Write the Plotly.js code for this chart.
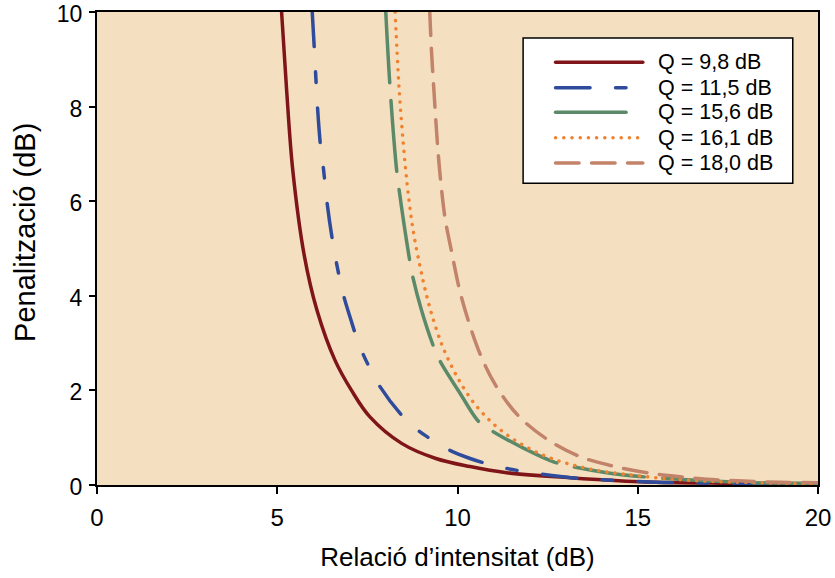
<!DOCTYPE html>
<html>
<head>
<meta charset="utf-8">
<script src="https://cdn.plot.ly/plotly-3.0.1.min.js"></script>
<style>
  body { margin: 0; background: #fff; }
  .scatterlayer .js-line { stroke-linecap: round; }
</style>
</head>
<body>
<div id="chart" style="width:835px;height:578px;"></div>
<script>
// Series
const seriesNames = ["Q = 9,8 dB", "Q = 11,5 dB", "Q = 15,6 dB", "Q = 16,1 dB", "Q = 18,0 dB"];

const redX = [5.12, 5.26, 5.43, 5.75, 6.10, 6.60, 7.06, 7.57, 8.45, 9.40, 10.35, 11.36, 13.2, 15.06, 17.0, 20.0];
const redY = [10, 8.35, 6.66, 4.85, 3.70, 2.64, 2.00, 1.44, 0.88, 0.56, 0.39, 0.26, 0.15, 0.07, 0.04, 0.015];

const blueX = [5.97, 6.03, 6.12, 6.20, 6.28, 6.39, 6.53, 6.71, 6.86, 7.04, 7.16, 7.39, 7.55, 7.85, 8.47, 8.93, 9.22, 9.77, 10.35, 10.72, 11.36, 12.33, 13.35, 14.31, 15.5, 17.0, 20.0];
const blueY = [10, 9.20, 7.95, 7.17, 6.70, 5.92, 5.18, 4.44, 3.95, 3.50, 3.21, 2.75, 2.50, 2.08, 1.46, 1.14, 0.99, 0.74, 0.56, 0.47, 0.35, 0.23, 0.14, 0.10, 0.06, 0.04, 0.02];

const greenX = [8.01, 8.13, 8.31, 8.38, 8.68, 8.76, 9.00, 9.33, 9.50, 10.07, 10.60, 10.92, 11.83, 12.70, 13.12, 14.14, 15.06, 16.36, 18.2, 20.0];
const greenY = [10, 8.39, 6.67, 6.24, 4.72, 4.40, 3.70, 2.94, 2.64, 1.94, 1.33, 1.16, 0.78, 0.48, 0.40, 0.26, 0.18, 0.11, 0.05, 0.035];

const orangeX = [8.27, 8.38, 8.54, 8.66, 8.79, 8.96, 9.11, 9.28, 9.57, 9.85, 10.07, 10.44, 10.90, 11.41, 11.99, 12.61, 13.26, 13.93, 14.60, 15.51, 16.40, 17.54, 19.32, 20.0];
const orangeY = [10, 8.39, 6.84, 5.99, 5.29, 4.62, 4.11, 3.62, 2.96, 2.49, 2.18, 1.75, 1.36, 1.04, 0.77, 0.56, 0.41, 0.30, 0.23, 0.155, 0.10, 0.064, 0.035, 0.03];

const brownX = [9.23, 9.28, 9.34, 9.45, 9.54, 9.66, 9.85, 10.05, 10.29, 10.67, 11.13, 11.73, 12.52, 13.40, 14.37, 15.34, 15.99, 16.91, 17.93, 18.95, 20.0];
const brownY = [10, 9.16, 8.41, 7.15, 6.38, 5.62, 4.88, 4.15, 3.50, 2.69, 2.02, 1.43, 0.95, 0.60, 0.39, 0.25, 0.19, 0.12, 0.085, 0.057, 0.05];

const xTicks = [0, 5, 10, 15, 20];
const yTicks = [0, 2, 4, 6, 8, 10];
const xTitle = "Relació d’intensitat (dB)";
const yTitle = "Penalització (dB)";

// Styles
const colors = ["#7F1518", "#2F4B9C", "#5A8A69", "#F0822F", "#C2836A"];
const dashes = ["solid", "34.5px,25.5px,10.5px,25.5px", "70.5px,18.5px", "0.1px,8.1px", "23.5px,12.5px"];
const LW = 3.5;
const FONT = "Liberation Sans, Arial, sans-serif";

const xs = [redX, blueX, greenX, orangeX, brownX];
const ys = [redY, blueY, greenY, orangeY, brownY];

const traces = xs.map((x, i) => ({
  type: "scatter", mode: "lines", x: x, y: ys[i], name: seriesNames[i],
  line: { color: colors[i], width: LW, dash: dashes[i], shape: "spline", smoothing: 1.0 },
  showlegend: false, hoverinfo: "skip"
}));

// Custom legend (box + samples + labels) in paper coordinates
const shapes = [{
  type: "rect", xref: "paper", yref: "paper",
  x0: 0.591, x1: 0.965, y0: 0.638, y1: 0.945,
  fillcolor: "#ffffff", line: { color: "#000000", width: 1.5 }, layer: "above"
}];
const annotations = [];
const rowY = [0.894, 0.840, 0.788, 0.734, 0.681];
seriesNames.forEach((n, i) => {
  shapes.push({
    type: "line", xref: "paper", yref: "paper",
    x0: 0.636, x1: 0.757, y0: rowY[i], y1: rowY[i],
    line: { color: colors[i], width: LW, dash: dashes[i] }, layer: "above"
  });
  annotations.push({
    xref: "paper", yref: "paper", x: 0.776, y: rowY[i],
    xanchor: "left", yanchor: "middle", showarrow: false, text: n,
    font: { family: FONT, size: 21.5, color: "#000" }
  });
});
// Y axis title (placed as in the reference, slightly above the axis centre)
annotations.push({
  xref: "paper", yref: "paper", x: -0.0999, y: 0.535,
  xanchor: "center", yanchor: "middle", showarrow: false, textangle: -90,
  text: yTitle, font: { family: FONT, size: 29, color: "#000" }
});

const layout = {
  width: 835, height: 578,
  margin: { l: 97, r: 17, t: 12, b: 93, pad: 0 },
  paper_bgcolor: "#ffffff",
  plot_bgcolor: "#F4E0C1",
  font: { family: FONT, color: "#000" },
  showlegend: false,
  xaxis: {
    range: [0, 20.0001], tickvals: xTicks, ticktext: xTicks.map(String),
    ticks: "outside", ticklen: 7, tickwidth: 2, tickcolor: "#000",
    showline: true, linewidth: 2, linecolor: "#000", mirror: true,
    showgrid: false, zeroline: false, fixedrange: true,
    tickfont: { size: 24, color: "#000" }, ticklabelstandoff: 3,
    ticklabeloverflow: "allow",
    title: { text: xTitle, font: { size: 26, color: "#000" }, standoff: 18 },
    automargin: false
  },
  yaxis: {
    range: [0, 10.0001], tickvals: yTicks, ticktext: yTicks.map(String),
    ticks: "outside", ticklen: 6, tickwidth: 2, tickcolor: "#000",
    showline: true, linewidth: 2, linecolor: "#000", mirror: true,
    showgrid: false, zeroline: false, fixedrange: true,
    tickfont: { size: 23, color: "#000" }, ticklabelstandoff: 2,
    ticklabelshift: 2,
    ticklabeloverflow: "allow",
    automargin: false
  },
  shapes: shapes,
  annotations: annotations
};

Plotly.newPlot("chart", traces, layout, { staticPlot: true, displayModeBar: false }).then(() => {
  document.querySelectorAll(".shapelayer path").forEach((p, k) => {
    if (k > 0) p.style.strokeLinecap = "round";
  });
});
</script>
</body>
</html>
